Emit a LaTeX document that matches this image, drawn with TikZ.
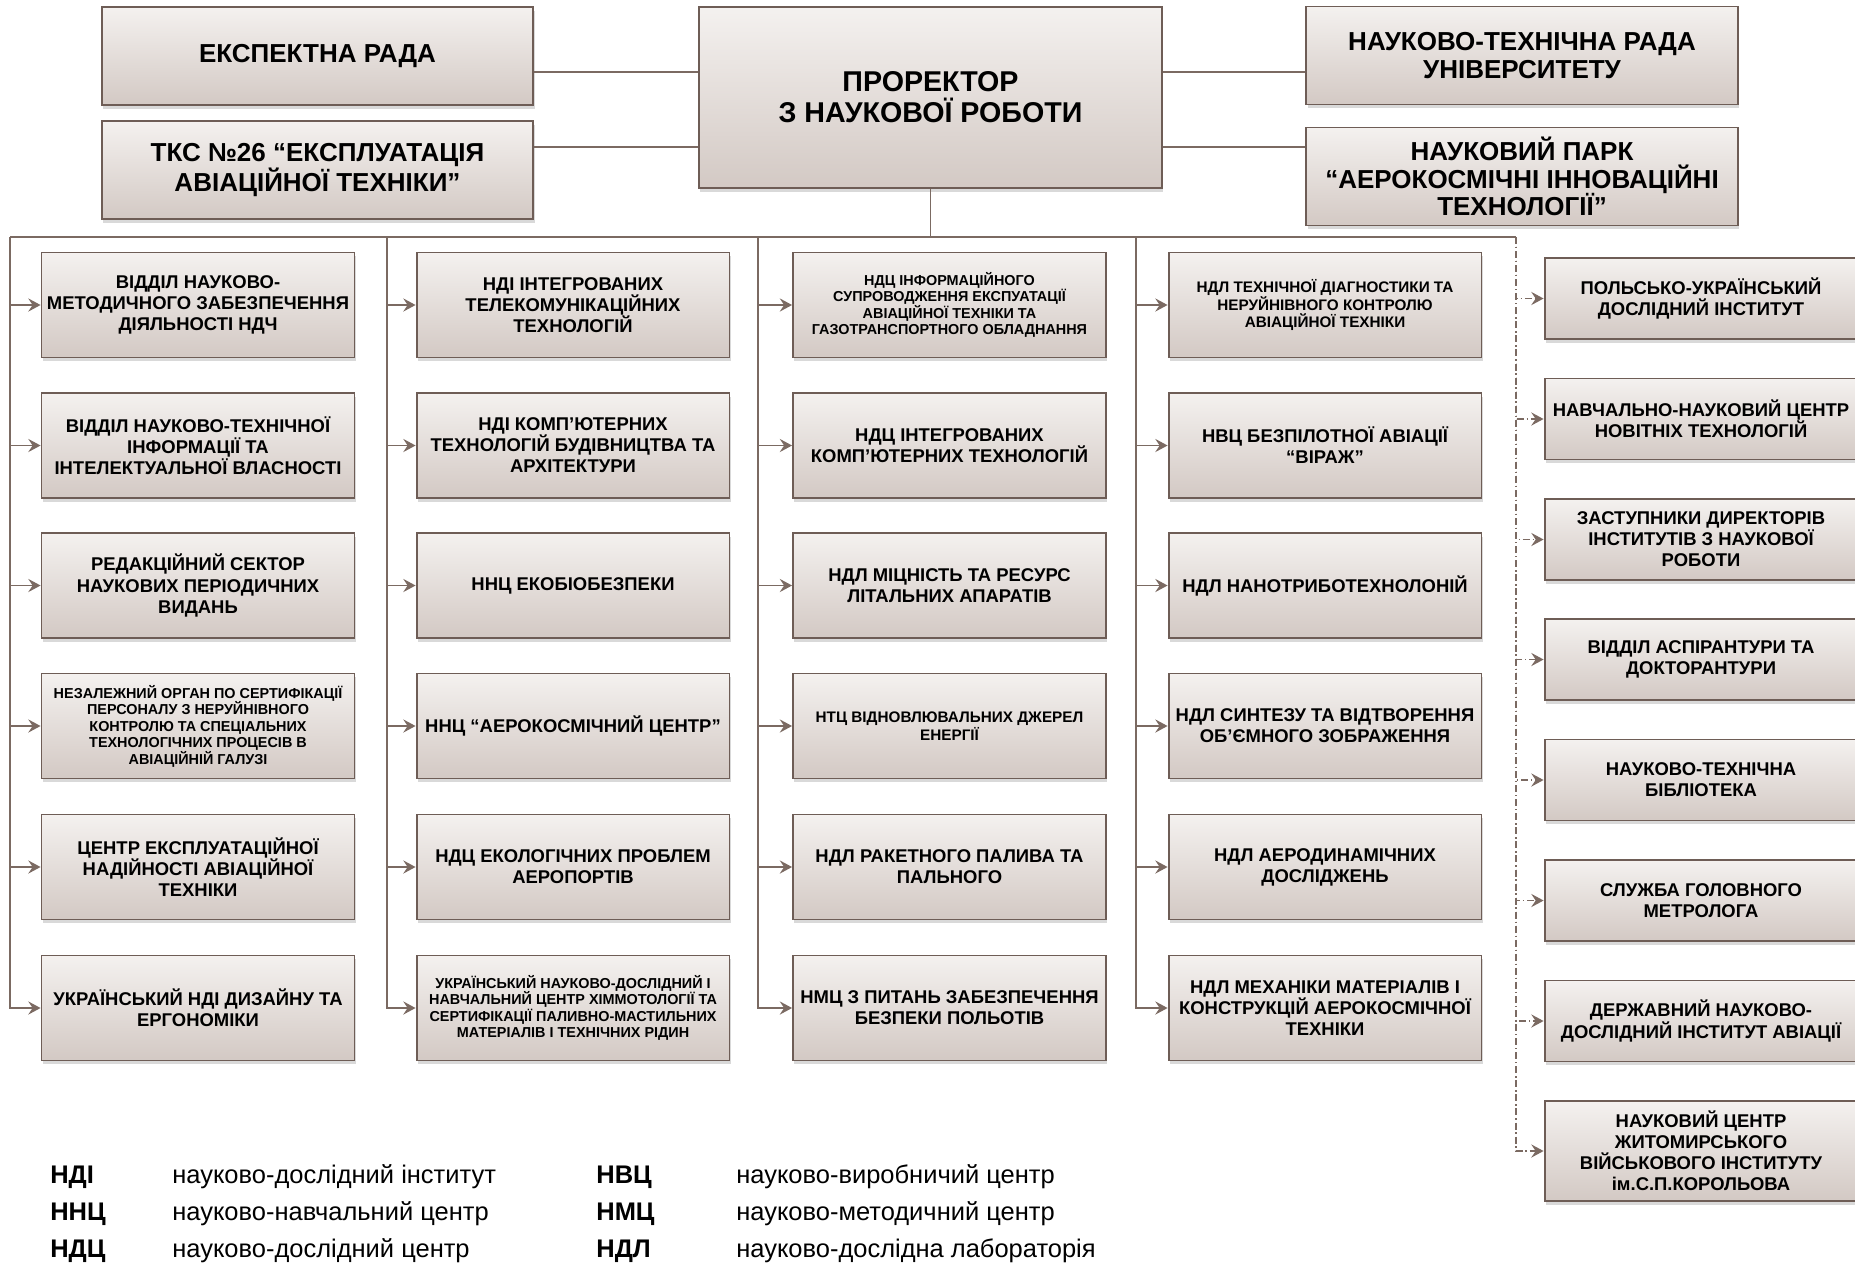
\documentclass[tikz,border=0pt]{standalone}
\usepackage{fontspec}
\setmainfont{Liberation Sans}
\usetikzlibrary{positioning, arrows.meta, shadows}

\definecolor{lineclr}{HTML}{7B6A62}
\definecolor{edgeclr}{HTML}{6E5D56}
\definecolor{boxtop}{HTML}{F4F1EF}
\definecolor{boxbot}{HTML}{D3C9C4}

\begin{document}
\begin{tikzpicture}[
  x=0.02cm, y=-0.02cm,
  box/.style={draw=edgeclr, line width=1.1pt, top color=boxtop, bottom color=boxbot, minimum width=6.26cm, minimum height=2.1cm, inner sep=1pt, align=center, font=\fontsize{10.5}{12}\selectfont\bfseries, drop shadow={shadow xshift=0.8pt, shadow yshift=-2.2pt, opacity=0.3}},
  smalltext/.style={font=\fontsize{8.2}{9.4}\selectfont\bfseries},
  midtext/.style={font=\fontsize{8.7}{10}\selectfont\bfseries},
  sidebox/.style={box, minimum height=1.62cm},
  topbox/.style={box, minimum width=8.63cm, minimum height=1.96cm, font=\fontsize{14.8}{15.8}\selectfont\bfseries},
  link/.style={draw=lineclr, line width=0.9pt},
  arrow/.style={link, -{Stealth[length=7pt, width=7.5pt, inset=2.5pt]}},
  dasharrow/.style={arrow, dash pattern=on 4pt off 1.6pt on 0.8pt off 1.6pt},
  keytext/.style={anchor=west, inner sep=0pt, font=\fontsize{14.5}{16}\selectfont}
]
  \useasboundingbox (0,0) rectangle (1855,1265);

  % Head of the structure
  \node[box, minimum width=9.26cm, minimum height=3.62cm, font=\fontsize{16.3}{17.6}\selectfont\bfseries] (pr) at (930.5,97.5) {ПРОРЕКТОР\\З НАУКОВОЇ РОБОТИ};

  % Councils (left side)
  \node[topbox] (eks) at (317.5,56) {ЕКСПЕКТНА РАДА};
  \node[topbox] (tks) at (317.5,170) {ТКС №26 “ЕКСПЛУАТАЦІЯ\\АВІАЦІЙНОЇ ТЕХНІКИ”};

  % Councils (right side)
  \node[topbox] (ntr) at (1522,55.5) {НАУКОВО-ТЕХНІЧНА РАДА\\УНІВЕРСИТЕТУ};
  \node[topbox] (park) at (1522,176.5) {НАУКОВИЙ ПАРК\\“АЕРОКОСМІЧНІ ІННОВАЦІЙНІ\\ТЕХНОЛОГІЇ”};

  \coordinate (hA) at (0,72);
  \coordinate (hB) at (0,147);
  \draw[link] (eks.east |- hA) -- (pr.west |- hA);
  \draw[link] (tks.east |- hB) -- (pr.west |- hB);
  \draw[link] (pr.east |- hA) -- (ntr.west |- hA);
  \draw[link] (pr.east |- hB) -- (park.west |- hB);

  % Column 1
  \node[box] (a1) at (198,305) {ВІДДІЛ НАУКОВО-\\МЕТОДИЧНОГО ЗАБЕЗПЕЧЕННЯ\\ДІЯЛЬНОСТІ НДЧ};
  \node[box] (a2) at (198,445.5) {ВІДДІЛ НАУКОВО-ТЕХНІЧНОЇ\\ІНФОРМАЦІЇ ТА\\ІНТЕЛЕКТУАЛЬНОЇ ВЛАСНОСТІ};
  \node[box] (a3) at (198,585.5) {РЕДАКЦІЙНИЙ СЕКТОР\\НАУКОВИХ ПЕРІОДИЧНИХ\\ВИДАНЬ};
  \node[box, smalltext] (a4) at (198,726) {НЕЗАЛЕЖНИЙ ОРГАН ПО СЕРТИФІКАЦІЇ\\ПЕРСОНАЛУ З НЕРУЙНІВНОГО\\КОНТРОЛЮ ТА СПЕЦІАЛЬНИХ\\ТЕХНОЛОГІЧНИХ ПРОЦЕСІВ В\\АВІАЦІЙНІЙ ГАЛУЗІ};
  \node[box] (a5) at (198,867) {ЦЕНТР ЕКСПЛУАТАЦІЙНОЇ\\НАДІЙНОСТІ АВІАЦІЙНОЇ\\ТЕХНІКИ};
  \node[box] (a6) at (198,1008) {УКРАЇНСЬКИЙ НДІ ДИЗАЙНУ ТА\\ЕРГОНОМІКИ};

  % Column 2
  \node[box] (b1) at (573,305) {НДІ ІНТЕГРОВАНИХ\\ТЕЛЕКОМУНІКАЦІЙНИХ\\ТЕХНОЛОГІЙ};
  \node[box] (b2) at (573,445.5) {НДІ КОМП’ЮТЕРНИХ\\ТЕХНОЛОГІЙ БУДІВНИЦТВА ТА\\АРХІТЕКТУРИ};
  \node[box] (b3) at (573,585.5) {ННЦ ЕКОБІОБЕЗПЕКИ};
  \node[box] (b4) at (573,726) {ННЦ “АЕРОКОСМІЧНИЙ ЦЕНТР”};
  \node[box] (b5) at (573,867) {НДЦ ЕКОЛОГІЧНИХ ПРОБЛЕМ\\АЕРОПОРТІВ};
  \node[box, smalltext] (b6) at (573,1008) {УКРАЇНСЬКИЙ НАУКОВО-ДОСЛІДНИЙ І\\НАВЧАЛЬНИЙ ЦЕНТР ХІММОТОЛОГІЇ ТА\\СЕРТИФІКАЦІЇ ПАЛИВНО-МАСТИЛЬНИХ\\МАТЕРІАЛІВ І ТЕХНІЧНИХ РІДИН};

  % Column 3
  \node[box, smalltext] (c1) at (949.5,305) {НДЦ ІНФОРМАЦІЙНОГО\\СУПРОВОДЖЕННЯ ЕКСПУАТАЦІЇ\\АВІАЦІЙНОЇ ТЕХНІКИ ТА\\ГАЗОТРАНСПОРТНОГО ОБЛАДНАННЯ};
  \node[box] (c2) at (949.5,445.5) {НДЦ ІНТЕГРОВАНИХ\\КОМП’ЮТЕРНИХ ТЕХНОЛОГІЙ};
  \node[box] (c3) at (949.5,585.5) {НДЛ МІЦНІСТЬ ТА РЕСУРС\\ЛІТАЛЬНИХ АПАРАТІВ};
  \node[box, midtext] (c4) at (949.5,726) {НТЦ ВІДНОВЛЮВАЛЬНИХ ДЖЕРЕЛ\\ЕНЕРГІЇ};
  \node[box] (c5) at (949.5,867) {НДЛ РАКЕТНОГО ПАЛИВА ТА\\ПАЛЬНОГО};
  \node[box] (c6) at (949.5,1008) {НМЦ З ПИТАНЬ ЗАБЕЗПЕЧЕННЯ\\БЕЗПЕКИ ПОЛЬОТІВ};

  % Column 4
  \node[box, midtext] (d1) at (1325,305) {НДЛ ТЕХНІЧНОЇ ДІАГНОСТИКИ ТА\\НЕРУЙНІВНОГО КОНТРОЛЮ\\АВІАЦІЙНОЇ ТЕХНІКИ};
  \node[box] (d2) at (1325,445.5) {НВЦ БЕЗПІЛОТНОЇ АВІАЦІЇ\\“ВІРАЖ”};
  \node[box] (d3) at (1325,585.5) {НДЛ НАНОТРИБОТЕХНОЛОНІЙ};
  \node[box] (d4) at (1325,726) {НДЛ СИНТЕЗУ ТА ВІДТВОРЕННЯ\\ОБ’ЄМНОГО ЗОБРАЖЕННЯ};
  \node[box] (d5) at (1325,867) {НДЛ АЕРОДИНАМІЧНИХ\\ДОСЛІДЖЕНЬ};
  \node[box] (d6) at (1325,1008) {НДЛ МЕХАНІКИ МАТЕРІАЛІВ І\\КОНСТРУКЦІЙ АЕРОКОСМІЧНОЇ\\ТЕХНІКИ};

  % Column 5 (dashed links)
  \node[sidebox] (e1) at (1701,298.5) {ПОЛЬСЬКО-УКРАЇНСЬКИЙ\\ДОСЛІДНИЙ ІНСТИТУТ};
  \node[sidebox] (e2) at (1701,419) {НАВЧАЛЬНО-НАУКОВИЙ ЦЕНТР\\НОВІТНІХ ТЕХНОЛОГІЙ};
  \node[sidebox] (e3) at (1701,539.5) {ЗАСТУПНИКИ ДИРЕКТОРІВ\\ІНСТИТУТІВ З НАУКОВОЇ\\РОБОТИ};
  \node[sidebox] (e4) at (1701,659.5) {ВІДДІЛ АСПІРАНТУРИ ТА\\ДОКТОРАНТУРИ};
  \node[sidebox] (e5) at (1701,780) {НАУКОВО-ТЕХНІЧНА\\БІБЛІОТЕКА};
  \node[sidebox] (e6) at (1701,900.5) {СЛУЖБА ГОЛОВНОГО\\МЕТРОЛОГА};
  \node[sidebox] (e7) at (1701,1021) {ДЕРЖАВНИЙ НАУКОВО-\\ДОСЛІДНИЙ ІНСТИТУТ АВІАЦІЇ};
  \node[sidebox, minimum height=2cm] (e8) at (1701,1151) {НАУКОВИЙ ЦЕНТР\\ЖИТОМИРСЬКОГО\\ВІЙСЬКОВОГО ІНСТИТУТУ\\ім.С.П.КОРОЛЬОВА};

  % Bus line
  \coordinate (ka) at (10,237);
  \coordinate (kb) at (387,237);
  \coordinate (kc) at (758,237);
  \coordinate (kd) at (1136,237);
  \coordinate (ke) at (1516,237);
  \draw[link] (pr.south) -- (pr.south |- ka);
  \draw[link] (ka) -- (ke);

  % Arrows to the units
  \draw[arrow] (ka) |- (a1.west);
  \draw[arrow] (ka) |- (a2.west);
  \draw[arrow] (ka) |- (a3.west);
  \draw[arrow] (ka) |- (a4.west);
  \draw[arrow] (ka) |- (a5.west);
  \draw[arrow] (ka) |- (a6.west);
  \draw[arrow] (kb) |- (b1.west);
  \draw[arrow] (kb) |- (b2.west);
  \draw[arrow] (kb) |- (b3.west);
  \draw[arrow] (kb) |- (b4.west);
  \draw[arrow] (kb) |- (b5.west);
  \draw[arrow] (kb) |- (b6.west);
  \draw[arrow] (kc) |- (c1.west);
  \draw[arrow] (kc) |- (c2.west);
  \draw[arrow] (kc) |- (c3.west);
  \draw[arrow] (kc) |- (c4.west);
  \draw[arrow] (kc) |- (c5.west);
  \draw[arrow] (kc) |- (c6.west);
  \draw[arrow] (kd) |- (d1.west);
  \draw[arrow] (kd) |- (d2.west);
  \draw[arrow] (kd) |- (d3.west);
  \draw[arrow] (kd) |- (d4.west);
  \draw[arrow] (kd) |- (d5.west);
  \draw[arrow] (kd) |- (d6.west);
  \draw[dasharrow] (ke) |- (e1.west);
  \draw[dasharrow] (ke) |- (e2.west);
  \draw[dasharrow] (ke) |- (e3.west);
  \draw[dasharrow] (ke) |- (e4.west);
  \draw[dasharrow] (ke) |- (e5.west);
  \draw[dasharrow] (ke) |- (e6.west);
  \draw[dasharrow] (ke) |- (e7.west);
  \draw[dasharrow] (ke) |- (e8.west);

  % Abbreviations
  \node[keytext, font=\fontsize{14.5}{16}\selectfont\bfseries] (ab1) at (50,1177) {НДІ};
  \node[keytext] (tx1) at (172,1177) {науково-дослідний інститут};
  \node[keytext, font=\fontsize{14.5}{16}\selectfont\bfseries] (ab2) at (50,1214) {ННЦ};
  \node[keytext] (tx2) at (172,1214) {науково-навчальний центр};
  \node[keytext, font=\fontsize{14.5}{16}\selectfont\bfseries] (ab3) at (50,1251) {НДЦ};
  \node[keytext] (tx3) at (172,1251) {науково-дослідний центр};
  \node[keytext, font=\fontsize{14.5}{16}\selectfont\bfseries] (ab4) at (596,1177) {НВЦ};
  \node[keytext] (tx4) at (736,1177) {науково-виробничий центр};
  \node[keytext, font=\fontsize{14.5}{16}\selectfont\bfseries] (ab5) at (596,1214) {НМЦ};
  \node[keytext] (tx5) at (736,1214) {науково-методичний центр};
  \node[keytext, font=\fontsize{14.5}{16}\selectfont\bfseries] (ab6) at (596,1251) {НДЛ};
  \node[keytext] (tx6) at (736,1251) {науково-дослідна лабораторія};
\end{tikzpicture}
\end{document}
